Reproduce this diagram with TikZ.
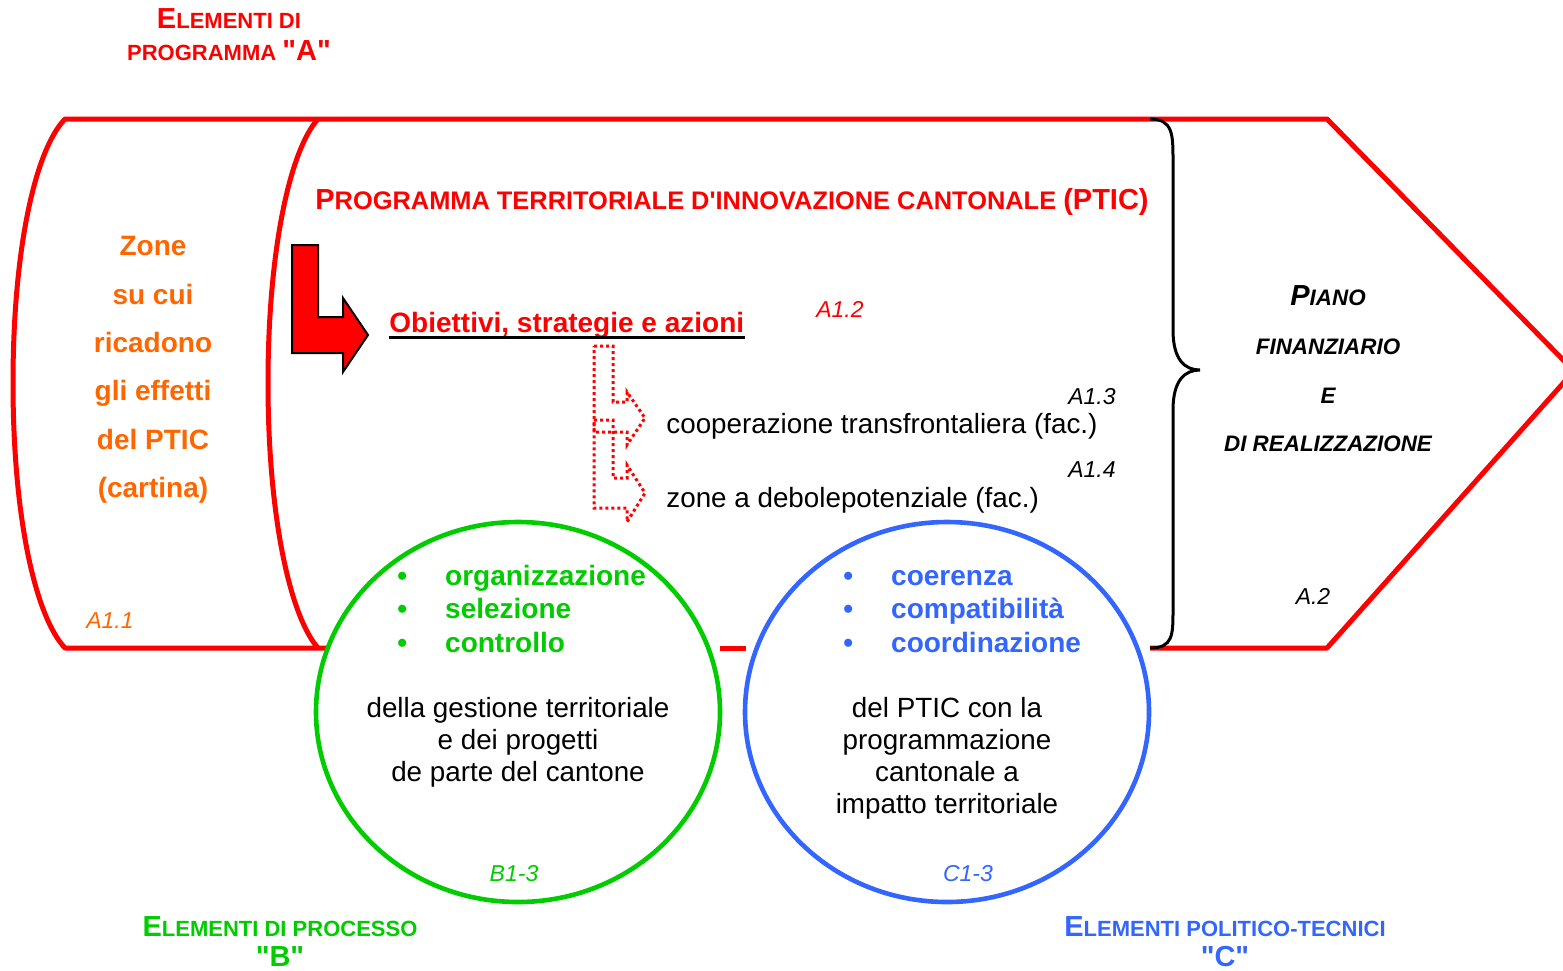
\documentclass[tikz,border=0pt]{standalone}
\usepackage{fontspec}
\setmainfont{Liberation Sans}
\usetikzlibrary{shapes.geometric, positioning, calc}
\definecolor{ptRed}{RGB}{255,0,0}
\definecolor{ptOrange}{RGB}{255,102,0}
\definecolor{ptGreen}{RGB}{0,204,0}
\definecolor{ptBlue}{RGB}{51,102,255}
\newcommand{\capbig}[1]{{\fontsize{14.5}{16}\selectfont #1}}
\newcommand{\qlabel}[1]{\capbig{\textquotedbl#1\textquotedbl}}

\begin{document}
\begin{tikzpicture}[x=0.5pt, y=-0.5pt,
    every node/.style={inner sep=0pt},
    frame/.style={draw=ptRed, line width=2.5pt, line join=round},
    ring/.style={ellipse, fill=white, line width=2.3pt, minimum width=202pt, minimum height=190pt},
    dotarrow/.style={draw=ptRed, line width=1.5pt, dash pattern=on 1.5pt off 1.5pt},
    reflabel/.style={font=\fontsize{11.5}{13}\selectfont\itshape},
    plaintext/.style={font=\fontsize{13.9}{16}\selectfont},
    bodytext/.style={font=\fontsize{13.9}{16}\selectfont, align=center},
    listtext/.style={font=\fontsize{14}{16.75}\selectfont\bfseries},
    grouplabel/.style={font=\fontsize{11}{16}\selectfont\bfseries, align=center}
  ]
    \useasboundingbox (0,0) rectangle (1563,970);
    \clip (0,0) rectangle (1563,970);

    % Outer frame (programma "A")
    \draw[frame] (330,648) -- (65,648)
        .. controls (35,616) and (13,516) .. (13,383)
        .. controls (13,250) and (35,150) .. (65,119)
        -- (1327,119) -- (1574,371) -- (1327,648) -- (1150,648);
    \draw[frame] (720,648) -- (746,648);
    \draw[frame] (318,119) .. controls (290,150) and (268,250) .. (268,383)
        .. controls (268,516) and (290,616) .. (318,648);

    % Brace towards the plan
    \draw[line width=1.5pt] (1150,119) .. controls (1173,119) and (1173,135) .. (1173,160) -- (1173,330)
        .. controls (1173,360) and (1185,370) .. (1200,370)
        .. controls (1185,370) and (1173,380) .. (1173,410) -- (1173,610)
        .. controls (1173,635) and (1173,648) .. (1150,648);

    % Top labels
    \node[grouplabel, text=ptRed] (progA) at (229,35) {\capbig{E}LEMENTI DI\\PROGRAMMA \qlabel{A}};
    \node[font=\fontsize{12.7}{14}\selectfont\bfseries, text=ptRed, anchor=base] (ptic) at (732,209)
        {\capbig{P}ROGRAMMA TERRITORIALE D\textquotesingle INNOVAZIONE CANTONALE \capbig{(PTIC)}};

    % Zones (A1.1)
    \node[font=\fontsize{14}{24.2}\selectfont\bfseries, text=ptOrange, align=center] (zones) at (153,370)
        {Zone\\su cui\\ricadono\\gli effetti\\del PTIC\\(cartina)};
    \node[reflabel, text=ptOrange] (a11) at (110,621) {A1.1};

    % Objectives with the block arrow
    \draw[fill=ptRed, line width=1pt] (292,245) -- (318,245) -- (318,317) -- (343,317) -- (343,298)
        -- (368,335) -- (343,372) -- (343,353) -- (292,353) -- cycle;
    \node[font=\fontsize{14}{16}\selectfont\bfseries, text=ptRed, anchor=base west] (obj) at (389,332)
        {Obiettivi, strategie e azioni};
    \draw[line width=1.5pt] ([yshift=-2.5pt]obj.base west) -- ([yshift=-2.5pt]obj.base east);
    \node[reflabel, text=ptRed] (a12) at (840,309) {A1.2};

    % Optional elements (dotted arrows)
    \draw[dotarrow] (594,346) -- (613,346) -- (613,402) -- (627,402) -- (627,392) -- (645,418)
        -- (627,445) -- (627,432) -- (594,432) -- cycle;
    \draw[dotarrow] (594,420) -- (613,420) -- (613,478) -- (627,478) -- (627,465) -- (645,493)
        -- (627,522) -- (627,508) -- (594,508) -- cycle;
    \node[reflabel, anchor=east] (a13) at (1116,397) {A1.3};
    \node[plaintext, anchor=base west] (coop) at (666,433) {cooperazione transfrontaliera (fac.)};
    \node[reflabel, anchor=east] (a14) at (1116,470) {A1.4};
    \node[plaintext, anchor=base west] (weak) at (666,507) {zone a debolepotenziale (fac.)};

    % Plan (A.2)
    \node[font=\fontsize{11.2}{24.35}\selectfont\bfseries\itshape, align=center] (piano) at (1328,369)
        {\capbig{P}IANO\\FINANZIARIO\\E\\DI REALIZZAZIONE};
    \node[reflabel] (a2) at (1313,596) {A.2};

    % Circles (B and C)
    \node[ring, draw=ptGreen] (procRing) at (518,712) {};
    \node[ring, draw=ptBlue] (polRing) at (947,712) {};

    \node[listtext, text=ptGreen, anchor=west] (procList) at (397,612)
        {\begin{tabular}{@{}l@{\hspace{19pt}}l@{}}\textbullet & organizzazione\\ \textbullet & selezione\\ \textbullet & controllo\end{tabular}};
    \node[bodytext] (procText) at (518,742) {della gestione territoriale\\e dei progetti\\de parte del cantone};
    \node[reflabel, text=ptGreen] (b13) at (514,874) {B1-3};

    \node[listtext, text=ptBlue, anchor=west] (polList) at (843,612)
        {\begin{tabular}{@{}l@{\hspace{19pt}}l@{}}\textbullet & coerenza\\ \textbullet & compatibilità\\ \textbullet & coordinazione\end{tabular}};
    \node[bodytext] (polText) at (947,758) {del PTIC con la\\programmazione\\cantonale a\\impatto territoriale};
    \node[reflabel, text=ptBlue] (c13) at (968,874) {C1-3};

    % Bottom labels
    \node[grouplabel, font=\fontsize{11}{15}\selectfont\bfseries, text=ptGreen] (procB) at (280,942)
        {\capbig{E}LEMENTI DI PROCESSO\\\qlabel{B}};
    \node[grouplabel, font=\fontsize{11}{15}\selectfont\bfseries, text=ptBlue] (polC) at (1225,942)
        {\capbig{E}LEMENTI POLITICO-TECNICI\\\qlabel{C}};

\end{tikzpicture}
\end{document}
